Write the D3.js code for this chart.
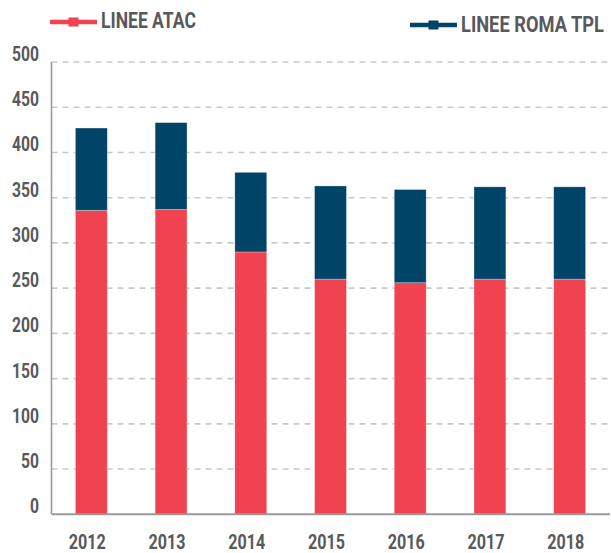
<!DOCTYPE html>
<html>
<head>
<meta charset="utf-8">
<script src="https://cdn.jsdelivr.net/npm/d3@7"></script>
<style>
  html, body { margin: 0; padding: 0; background: #fff; }
  svg { display: block; }
  text { font-family: "Roboto", "DejaVu Sans Condensed", sans-serif; font-weight: bold; fill: #58595b; }
</style>
</head>
<body>
<svg id="chart" width="611" height="553"></svg>
<script>
const years = ["2012", "2013", "2014", "2015", "2016", "2017", "2018"];
const lineeAtac = [336, 337, 290, 260, 256, 260, 260];
const lineeRomaTpl = [91, 96, 88, 103, 103, 102, 102];
const yTicks = [0, 50, 100, 150, 200, 250, 300, 350, 400, 450, 500];
const seriesNames = ["LINEE ATAC", "LINEE ROMA TPL"];
const seriesColors = ["#ef434f", "#004468"];

const svg = d3.select("#chart");
const plotLeft = 51.5, plotRight = 609.5, plotTop = 62, plotBottom = 514.3;

const x = d3.scaleBand().domain(years).range([plotLeft, plotRight]).paddingInner(0.6).paddingOuter(0.3);
const y = d3.scaleLinear().domain([0, 500]).range([plotBottom, plotTop]);

// gridlines
svg.append("g").selectAll("line").data(yTicks.filter(d => d > 0)).join("line")
  .attr("x1", plotLeft).attr("x2", 611)
  .attr("y1", d => y(d)).attr("y2", d => y(d))
  .attr("stroke", "#c9c9c9").attr("stroke-width", 1.6)
  .attr("stroke-dasharray", "6,5");

// y tick labels
svg.append("g").selectAll("text").data(yTicks).join("text")
  .attr("x", 39).attr("y", d => y(d) - 1)
  .attr("text-anchor", "end")
  .attr("font-size", "19.5px")
  .attr("textLength", d => String(d).length * 9)
  .attr("lengthAdjust", "spacingAndGlyphs")
  .text(d => d);

// stacked data
const table = years.map((yr, i) => ({ year: yr, atac: lineeAtac[i], roma: lineeRomaTpl[i] }));
const stack = d3.stack().keys(["atac", "roma"])(table);

svg.append("g").selectAll("g").data(stack).join("g")
  .attr("fill", (d, i) => seriesColors[i])
  .selectAll("rect").data(d => d).join("rect")
  .attr("x", d => x(d.data.year))
  .attr("width", x.bandwidth())
  .attr("y", d => y(d[1]))
  .attr("height", d => y(d[0]) - y(d[1]))
  .attr("stroke", "#ffffff").attr("stroke-opacity", 0.35).attr("stroke-width", 0.8);

// axes lines
svg.append("line").attr("x1", plotLeft).attr("x2", plotLeft).attr("y1", plotTop).attr("y2", plotBottom)
  .attr("stroke", "#9a9a9a").attr("stroke-width", 1.6);
svg.append("line").attr("x1", plotLeft).attr("x2", 610).attr("y1", plotBottom).attr("y2", plotBottom)
  .attr("stroke", "#9a9a9a").attr("stroke-width", 2);

// x labels
svg.append("g").selectAll("text").data(years).join("text")
  .attr("x", d => x(d) + x.bandwidth() / 2 - 4)
  .attr("y", 548.5)
  .attr("text-anchor", "middle")
  .attr("font-size", "20px")
  .attr("textLength", 37)
  .attr("lengthAdjust", "spacingAndGlyphs")
  .text(d => d);

// legend
const legend = [
  { name: seriesNames[0], color: seriesColors[0], x0: 50, x1: 97, ly: 22, tx: 101, ty: 28.3, tw: 95 },
  { name: seriesNames[1], color: seriesColors[1], x0: 410, x1: 457, ly: 25, tx: 461, ty: 31.7, tw: 143 }
];
const lg = svg.append("g").selectAll("g").data(legend).join("g");
lg.append("line")
  .attr("x1", d => d.x0).attr("x2", d => d.x1)
  .attr("y1", d => d.ly).attr("y2", d => d.ly)
  .attr("stroke", d => d.color).attr("stroke-width", 4.5);
lg.append("rect")
  .attr("x", d => (d.x0 + d.x1) / 2 - 5).attr("y", d => d.ly - 4.5)
  .attr("width", 10).attr("height", 9)
  .attr("fill", d => d.color);
lg.append("text")
  .attr("x", 0).attr("y", 0)
  .attr("font-size", "22px")
  .text(d => d.name)
  .each(function (d) {
    const w = this.getComputedTextLength() || d.tw;
    d3.select(this).attr("transform", `translate(${d.tx},${d.ty}) scale(${d.tw / w},1)`);
  });
</script>
</body>
</html>
